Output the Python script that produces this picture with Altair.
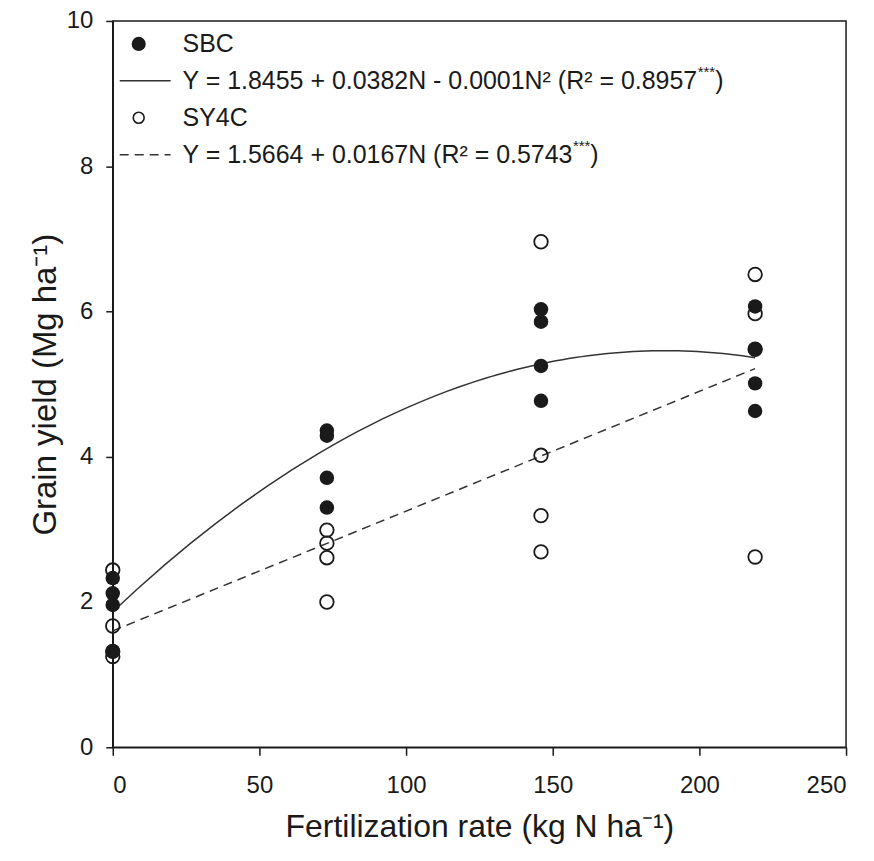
import altair as alt
import pandas as pd

# ---- data ----
N_SBC = [0, 0, 0, 0, 73, 73, 73, 73, 146, 146, 146, 146, 219, 219, 219, 219]
Y_SBC = [2.33, 2.12, 1.96, 1.32, 4.36, 4.29, 3.71, 3.30, 6.03, 5.86, 5.25, 4.77, 6.07, 5.48, 5.01, 4.63]
N_SY4C = [0, 0, 0, 0, 73, 73, 73, 73, 146, 146, 146, 146, 219, 219, 219, 219]
Y_SY4C = [2.44, 1.67, 1.32, 1.25, 2.99, 2.81, 2.61, 2.00, 6.96, 4.02, 3.19, 2.69, 6.51, 5.97, 5.48, 2.62]
X_TICKS = [0, 50, 100, 150, 200, 250]
Y_TICKS = [0, 2, 4, 6, 8, 10]
LEG_SBC = "SBC"
LEG_SBC_EQ = "Y = 1.8455 + 0.0382N - 0.0001N\u00b2 (R\u00b2 = 0.8957"
LEG_SY = "SY4C"
LEG_SY_EQ = "Y = 1.5664 + 0.0167N (R\u00b2 = 0.5743"
STARS = "***"

df_sbc = pd.DataFrame({"N": N_SBC, "Y": Y_SBC})
df_sy = pd.DataFrame({"N": N_SY4C, "Y": Y_SY4C})
one = pd.DataFrame({"k": [0]})

F = "Liberation Sans"
FS = 25
SFS = 15
INK = "#1a1a1a"

# Arial-metric widths for positioning the raised asterisks
W = {' ': .278, '=': .584, '+': .584, '-': .333, '.': .278, '(': .333, ')': .333,
     'Y': .667, 'N': .722, 'R': .722, '\u00b2': .333, '*': .389}
def tw(s, fs):
    return sum(W.get(c, .556) for c in s) * fs

xs = alt.Scale(domain=[0, 250], nice=False, zero=True)
ys = alt.Scale(domain=[0, 10], nice=False, zero=True)
xaxis = alt.Axis(values=X_TICKS, title="Fertilization rate (kg N ha\u207b\u00b9)", grid=False,
                 tickSize=8, labelPadding=18, titlePadding=14, format="d", titleFontSize=32)
yaxis = alt.Axis(values=Y_TICKS, title="Grain yield (Mg ha\u207b\u00b9)", grid=False,
                 tickSize=7, labelPadding=13, titlePadding=4, format="d", titleFontSize=33)
X = alt.X("N:Q", scale=xs, axis=xaxis)
Yc = alt.Y("Y:Q", scale=ys, axis=yaxis)

fit_sbc = alt.Chart(df_sbc).transform_regression(
    "N", "Y", method="poly", order=2, extent=[0, 219]
).mark_line(color="#333333", strokeWidth=1.5).encode(x=X, y=Yc)

fit_sy = alt.Chart(df_sy).transform_regression(
    "N", "Y", method="linear", extent=[0, 219]
).mark_line(color="#333333", strokeWidth=1.5, strokeDash=[9, 6]).encode(x=X, y=Yc)

open_pts = alt.Chart(df_sy).mark_point(
    shape="circle", filled=False, color=INK, strokeWidth=1.8, size=185, opacity=1
).encode(x=X, y=Yc)

filled_pts = alt.Chart(df_sbc).mark_circle(color=INK, size=210, opacity=1).encode(x=X, y=Yc)

# ---- legend (inside plot, top-left) ----
SX, TX, L0, L1 = 26, 70, 7, 58
R1, R2, R3, R4 = 23, 60, 97, 134

def txt(s, x, y, fs=FS, dy=0):
    return alt.Chart(one).mark_text(align="left", baseline="middle", font=F, fontSize=fs,
                                    color=INK, dy=dy).encode(
        x=alt.value(x), y=alt.value(y), text=alt.value(s))

leg = [
    alt.Chart(one).mark_circle(color=INK, size=200, opacity=1).encode(x=alt.value(SX), y=alt.value(R1)),
    txt(LEG_SBC, TX, R1),
    alt.Chart(one).mark_rule(color="#333333", strokeWidth=1.5).encode(
        x=alt.value(L0), x2=alt.value(L1), y=alt.value(R2)),
    txt(LEG_SBC_EQ, TX, R2),
    txt(STARS, TX + tw(LEG_SBC_EQ, FS), R2, fs=SFS, dy=-9),
    txt(")", TX + tw(LEG_SBC_EQ, FS) + tw(STARS, SFS), R2),
    alt.Chart(one).mark_point(shape="circle", filled=False, color=INK, strokeWidth=1.6,
                              size=120, opacity=1).encode(x=alt.value(SX), y=alt.value(R3)),
    txt(LEG_SY, TX, R3),
    alt.Chart(one).mark_rule(color="#333333", strokeWidth=1.5, strokeDash=[9, 6]).encode(
        x=alt.value(L0), x2=alt.value(L1), y=alt.value(R4)),
    txt(LEG_SY_EQ, TX, R4),
    txt(STARS, TX + tw(LEG_SY_EQ, FS), R4, fs=SFS, dy=-9),
    txt(")", TX + tw(LEG_SY_EQ, FS) + tw(STARS, SFS), R4),
]

chart = alt.layer(fit_sbc, fit_sy, open_pts, filled_pts, *leg).properties(
    width=735, height=728,
    autosize=alt.AutoSizeParams(type="none"),
    padding={"left": 105, "top": 12, "right": 20, "bottom": 110},
    background="white",
).configure_axis(
    labelFont=F, titleFont=F, labelFontSize=24,
    titleFontWeight="normal", labelColor=INK, titleColor=INK,
    domainColor=INK, tickColor=INK, domainWidth=1.5, tickWidth=1.5,
).configure_view(stroke=INK, strokeWidth=1.5)

chart.save("out.html", embed_options={"renderer": "svg", "actions": False})
